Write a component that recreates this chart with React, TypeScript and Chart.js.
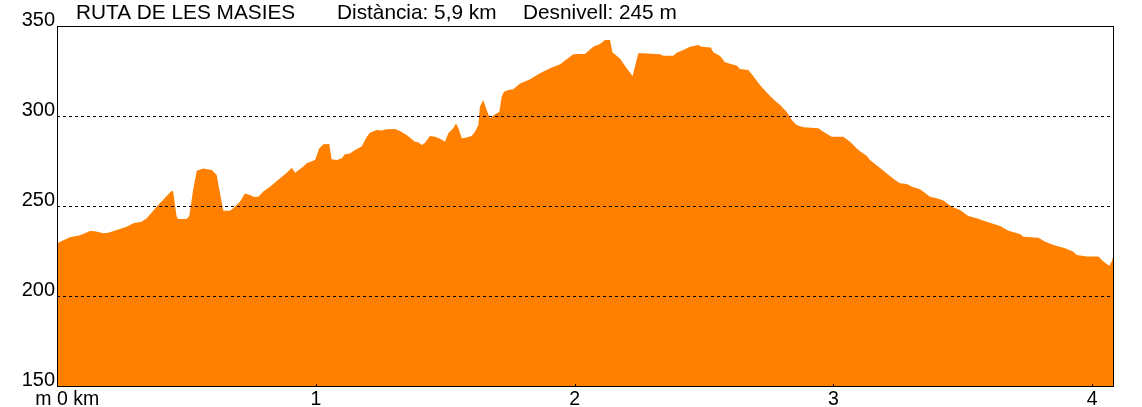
import React, { useEffect, useRef } from 'react';
import { Chart, registerables } from 'chart.js';

Chart.register(...registerables);

// Distance along the route (km) and elevation (m)
const distKm = [
  0.000, 0.050, 0.089, 0.128, 0.147, 0.179, 0.198, 0.231, 0.269, 0.295,
  0.327, 0.347, 0.385, 0.443, 0.449, 0.462, 0.469, 0.501, 0.511, 0.527,
  0.540, 0.565, 0.598, 0.617, 0.630, 0.643, 0.668, 0.681, 0.707, 0.726,
  0.746, 0.759, 0.778, 0.797, 0.823, 0.862, 0.888, 0.907, 0.920, 0.952,
  0.965, 0.997, 1.013, 1.029, 1.052, 1.061, 1.081, 1.100, 1.113, 1.132,
  1.151, 1.177, 1.197, 1.209, 1.235, 1.255, 1.274, 1.306, 1.325, 1.351,
  1.383, 1.396, 1.409, 1.422, 1.441, 1.461, 1.486, 1.499, 1.512, 1.531,
  1.542, 1.551, 1.564, 1.583, 1.602, 1.615, 1.628, 1.634, 1.647, 1.660,
  1.673, 1.692, 1.709, 1.718, 1.727, 1.744, 1.763, 1.789, 1.828, 1.866,
  1.905, 1.944, 1.969, 1.995, 2.021, 2.040, 2.060, 2.072, 2.098, 2.117,
  2.137, 2.146, 2.175, 2.201, 2.224, 2.233, 2.246, 2.265, 2.330, 2.343,
  2.381, 2.394, 2.420, 2.446, 2.478, 2.491, 2.526, 2.536, 2.562, 2.581,
  2.607, 2.626, 2.639, 2.671, 2.690, 2.716, 2.742, 2.768, 2.794, 2.819,
  2.839, 2.858, 2.884, 2.942, 2.961, 2.993, 3.038, 3.064, 3.096, 3.129,
  3.141, 3.173, 3.206, 3.238, 3.257, 3.283, 3.309, 3.335, 3.373, 3.399,
  3.425, 3.457, 3.489, 3.521, 3.554, 3.592, 3.644, 3.676, 3.721, 3.734,
  3.792, 3.818, 3.850, 3.895, 3.927, 3.940, 3.979, 4.024, 4.043, 4.066,
  4.075, 4.084,
];

const elevM = [
  229.3, 232.6, 233.7, 236.1, 236.0, 234.8, 235.2, 236.7, 238.5, 240.4,
  241.3, 243.2, 249.6, 258.5, 257.9, 244.1, 242.8, 242.8, 244.4, 259.8,
  269.6, 270.9, 270.0, 267.2, 257.0, 247.4, 247.4, 248.7, 252.4, 257.0,
  256.1, 255.2, 255.2, 258.0, 260.7, 265.4, 268.5, 271.3, 268.5, 271.9,
  273.7, 275.6, 282.0, 284.3, 284.4, 276.0, 275.6, 276.5, 278.7, 279.2,
  281.1, 283.0, 288.5, 290.7, 292.2, 291.9, 292.6, 292.8, 291.7, 289.4,
  285.7, 285.4, 283.9, 285.2, 288.9, 288.5, 287.0, 285.7, 290.4, 293.2,
  295.9, 293.2, 287.6, 288.0, 288.9, 291.3, 295.0, 305.2, 308.9, 303.3,
  298.7, 300.9, 302.4, 310.7, 313.5, 314.4, 314.8, 318.1, 320.4, 323.7,
  326.5, 328.7, 331.5, 334.3, 334.4, 334.4, 337.0, 338.5, 340.0, 342.2,
  342.2, 335.4, 332.0, 326.5, 322.2, 327.4, 334.8, 334.8, 334.3, 333.5,
  333.5, 335.2, 336.7, 338.5, 339.4, 338.5, 338.1, 335.4, 333.3, 329.8,
  328.7, 328.0, 326.1, 325.6, 322.2, 317.2, 313.0, 309.3, 306.1, 302.4,
  297.8, 295.0, 293.7, 293.2, 291.3, 288.5, 288.5, 285.7, 281.1, 277.8,
  275.6, 271.9, 268.1, 264.4, 262.6, 262.2, 260.4, 259.3, 255.2, 254.3,
  253.0, 249.6, 247.8, 244.4, 243.2, 241.3, 238.9, 236.3, 234.4, 232.9,
  232.4, 230.2, 228.3, 226.5, 224.6, 222.8, 221.9, 221.9, 219.1, 216.8,
  219.1, 223.3,
];

const yTicks = [150, 200, 250, 300, 350];
const xTicks = [0, 1, 2, 3, 4];
const xMax = 4.084;

const routeName = 'RUTA DE LES MASIES';
const distanceText = 'Distància: 5,9 km';
const climbText = 'Desnivell: 245 m';
const yUnit = 'm';
const xUnit = 'km';

const FAMILY = '"Liberation Sans", Arial, sans-serif';
const FILL = 'rgb(255,128,0)';

export default function App() {
  const ref = useRef<HTMLCanvasElement | null>(null);

  useEffect(() => {
    document.body.style.margin = '0';
    const canvas = ref.current;
    if (!canvas) return;

    const framePlugin = {
      id: 'frame',
      afterDraw(chart: any) {
        const { ctx, chartArea } = chart;
        const { left, top, right, bottom } = chartArea;
        const xs = chart.scales.x;
        ctx.save();
        ctx.strokeStyle = '#000';
        ctx.lineWidth = 1;
        ctx.setLineDash([]);
        ctx.strokeRect(left + 0.5, top + 0.5, right - left - 1, bottom - top);
        // inward tick marks
        xTicks.forEach((v) => {
          if (v === 0) return;
          const px = Math.round(xs.getPixelForValue(v)) + 0.5;
          ctx.beginPath();
          ctx.moveTo(px, bottom - 2);
          ctx.lineTo(px, bottom + 0.5);
          ctx.stroke();
        });
        ctx.fillStyle = '#000';
        ctx.textBaseline = 'alphabetic';
        // titles
        ctx.font = `20.8px ${FAMILY}`;
        ctx.textAlign = 'left';
        ctx.fillText(routeName, 76, 19);
        ctx.fillText(distanceText, 337, 19);
        ctx.fillText(climbText, 523, 19);
        // x tick labels
        ctx.font = `19.5px ${FAMILY}`;
        xTicks.forEach((v) => {
          const px = xs.getPixelForValue(v);
          if (v === 0) {
            const pre = yUnit + ' ';
            const w = ctx.measureText(pre).width;
            ctx.textAlign = 'left';
            ctx.fillText(pre + v + ' ' + xUnit, px - w, 405);
          } else {
            ctx.textAlign = 'center';
            ctx.fillText(String(v), px, 405);
          }
        });
        ctx.restore();
      },
    };

    const chart = new Chart(canvas, {
      type: 'line',
      data: {
        datasets: [
          {
            data: distKm.map((x, i) => ({ x, y: elevM[i] })),
            fill: 'start',
            backgroundColor: FILL,
            borderWidth: 0,
            borderColor: FILL,
            pointRadius: 0,
            tension: 0,
          },
        ],
      },
      options: {
        animation: false,
        responsive: false,
        events: [],
        layout: { padding: { top: 26, right: 28, left: 0, bottom: 0 } },
        plugins: { legend: { display: false }, tooltip: { enabled: false } },
        scales: {
          x: {
            type: 'linear',
            min: 0,
            max: xMax,
            afterBuildTicks: (s: any) => {
              s.ticks = xTicks.map((v) => ({ value: v }));
            },
            afterFit: (s: any) => {
              s.height = 21;
            },
            ticks: { display: false },
            grid: { display: false, drawTicks: false },
            border: { display: false },
          },
          y: {
            min: 150,
            max: 350,
            afterBuildTicks: (s: any) => {
              s.ticks = yTicks.map((v) => ({ value: v }));
            },
            afterFit: (s: any) => {
              s.width = 57;
            },
            ticks: {
              font: { family: FAMILY, size: 20 },
              color: '#000',
              padding: 2,
              labelOffset: -6,
            },
            grid: {
              z: 1,
              drawTicks: false,
              lineWidth: 1,
              color: (c: any) =>
                c.tick && (c.tick.value === 150 || c.tick.value === 350) ? 'rgba(0,0,0,0)' : '#000',
            },
            border: { display: false, dash: [3, 3] },
          },
        },
      },
      plugins: [framePlugin],
    });

    return () => chart.destroy();
  }, []);

  return (
    <div style={{ width: 1142, height: 407 }}>
      <canvas ref={ref} width={1142} height={407} style={{ display: 'block' }} />
    </div>
  );
}
